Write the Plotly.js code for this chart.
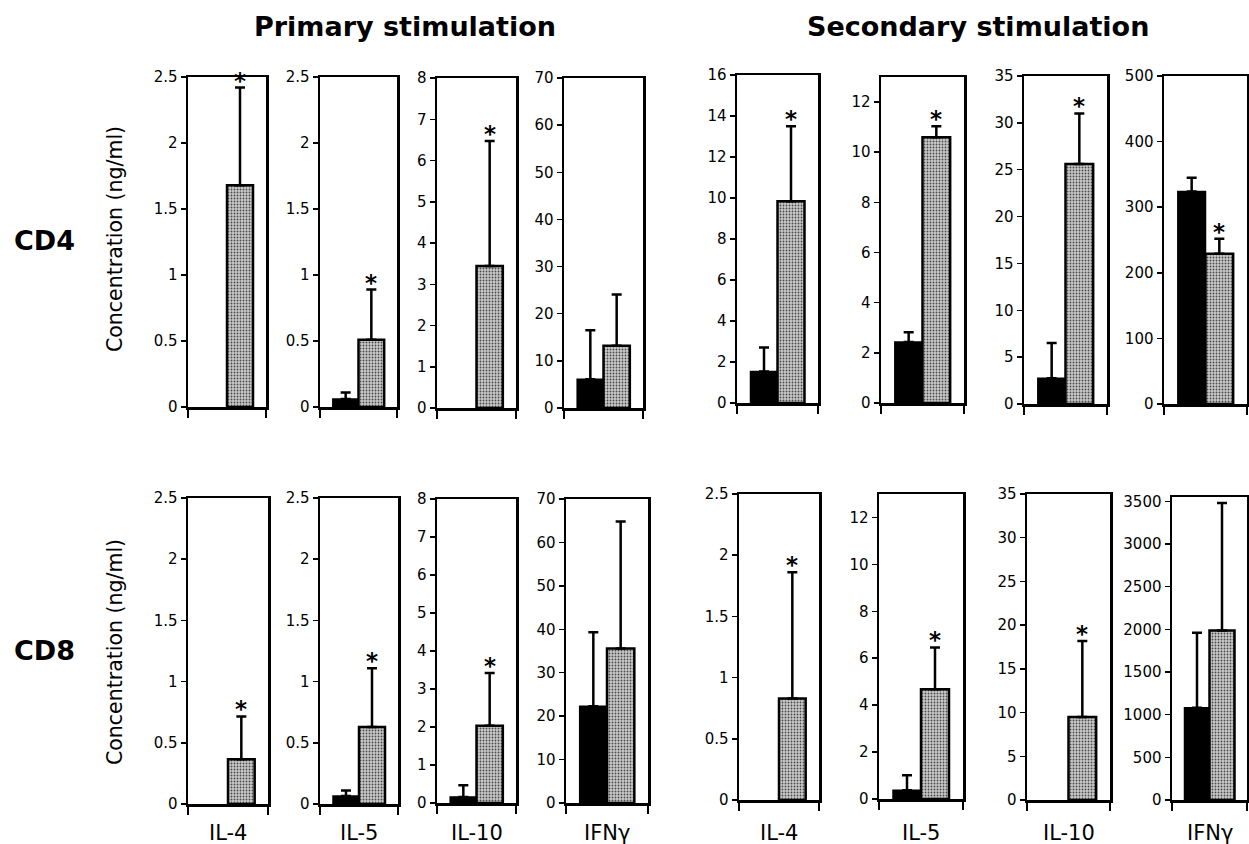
<!DOCTYPE html>
<html>
<head>
<meta charset="utf-8">
<script src="https://cdn.plot.ly/plotly-3.0.1.min.js"></script>
<style>
html,body{margin:0;padding:0;background:#fff;}
#chart{width:1249px;height:844px;}
</style>
</head>
<body>
<div id="chart"></div>
<script>
// ---------------- DATA ----------------
const cytokines = ['IL-4', 'IL-5', 'IL-10', 'IFNγ'];
const stimulations = ['Primary stimulation', 'Secondary stimulation'];
const cellTypes = ['CD4', 'CD8'];
const yAxisTitle = 'Concentration (ng/ml)';

// CD4, primary stimulation (black = control, stippled = treated)
const cd4PriControl     = [null, 0.06, null, 6.1];
const cd4PriControlErr  = [null, 0.05, null, 10.4];
const cd4PriTreated     = [1.68, 0.51, 3.44, 13.2];
const cd4PriTreatedErr  = [0.74, 0.38, 3.03, 10.9];
const cd4PriSig         = [true, true, true, false];

// CD4, secondary stimulation
const cd4SecControl     = [1.54, 2.43, 2.75, 324];
const cd4SecControlErr  = [1.17, 0.39, 3.75, 21];
const cd4SecTreated     = [9.84, 10.6, 25.6, 229];
const cd4SecTreatedErr  = [3.66, 0.44, 5.4, 23];
const cd4SecSig         = [true, true, true, true];

// CD8, primary stimulation
const cd8PriControl     = [null, 0.065, 0.16, 22.3];
const cd8PriControlErr  = [null, 0.045, 0.31, 17];
const cd8PriTreated     = [0.365, 0.63, 2.03, 35.6];
const cd8PriTreatedErr  = [0.35, 0.48, 1.39, 29.2];
const cd8PriSig         = [true, true, true, false];

// CD8, secondary stimulation
const cd8SecControl     = [null, 0.37, null, 1080];
const cd8SecControlErr  = [null, 0.64, null, 880];
const cd8SecTreated     = [0.83, 4.68, 9.5, 1986];
const cd8SecTreatedErr  = [1.03, 1.78, 8.7, 1494];
const cd8SecSig         = [true, true, true, false];

// y-axis scales per panel
const cd4PriYMax = [2.5, 2.5, 8, 70];   const cd4PriYStep = [0.5, 0.5, 1, 10];
const cd4SecYMax = [16, 13, 35, 500];   const cd4SecYStep = [2, 2, 5, 100];
const cd8PriYMax = [2.5, 2.5, 8, 70];   const cd8PriYStep = [0.5, 0.5, 1, 10];
const cd8SecYMax = [2.5, 13, 35, 3550]; const cd8SecYStep = [0.5, 2, 5, 500];

// ---------------- LAYOUT GEOMETRY (pixels) ----------------
const W = 1249, H = 844;
// [left, right, top, zero-line]
const geom = [
  [188,266,77,407],[320,397,77,407],[437,516,78,408],[564,643,78,408],
  [737,818,75,403],[881,964,77,403],[1024,1107,76,404],[1164,1247,76,404],
  [188,268,498,804],[320,398,498,804],[437,516,499,803],[566,648,499,803],
  [739,819,494,800],[879,963,494,799],[1027,1110,494,800],[1172,1247,497,800]
];

const groups = [
  {ctl: cd4PriControl, ctlErr: cd4PriControlErr, trt: cd4PriTreated, trtErr: cd4PriTreatedErr, sig: cd4PriSig, ymax: cd4PriYMax, step: cd4PriYStep},
  {ctl: cd4SecControl, ctlErr: cd4SecControlErr, trt: cd4SecTreated, trtErr: cd4SecTreatedErr, sig: cd4SecSig, ymax: cd4SecYMax, step: cd4SecYStep},
  {ctl: cd8PriControl, ctlErr: cd8PriControlErr, trt: cd8PriTreated, trtErr: cd8PriTreatedErr, sig: cd8PriSig, ymax: cd8PriYMax, step: cd8PriYStep},
  {ctl: cd8SecControl, ctlErr: cd8SecControlErr, trt: cd8SecTreated, trtErr: cd8SecTreatedErr, sig: cd8SecSig, ymax: cd8SecYMax, step: cd8SecYStep}
];

const FONT = 'DejaVu Sans, Liberation Sans, Arial, sans-serif';
const traces = [];
const layout = {
  width: W, height: H,
  margin: {l:0, r:0, t:0, b:0},
  paper_bgcolor: '#fff', plot_bgcolor: '#fff',
  showlegend: false,
  barmode: 'overlay',
  font: {family: FONT, color: '#000'},
  annotations: []
};

const errStyle = {color: '#000', thickness: 2.5, width: 5};

groups.forEach((g, gi) => {
  for (let c = 0; c < 4; c++) {
    const idx = gi * 4 + c + 1;
    const ax = idx === 1 ? '' : String(idx);
    const xa = 'x' + ax, ya = 'y' + ax;
    const [x0, x1, yt, yb] = geom[idx - 1];

    if (g.ctl[c] !== null) {
      traces.push({
        type: 'bar', x: [0], y: [g.ctl[c]], xaxis: xa, yaxis: ya, width: 1,
        marker: {color: '#000', line: {color: '#000', width: 1.5}},
        error_y: Object.assign({type: 'data', symmetric: false, array: [g.ctlErr[c]], arrayminus: [0]}, errStyle),
        hoverinfo: 'skip'
      });
    }
    traces.push({
      type: 'bar', x: [1], y: [g.trt[c]], xaxis: xa, yaxis: ya, width: 1,
      marker: {color: '#bdbdbd', line: {color: '#000', width: 2.5},
               pattern: {shape: '.', bgcolor: '#cacaca', fgcolor: '#4a4a4a', size: 3, solidity: 0.3, fillmode: 'replace'}},
      error_y: Object.assign({type: 'data', symmetric: false, array: [g.trtErr[c]], arrayminus: [0]}, errStyle),
      hoverinfo: 'skip'
    });

    if (g.sig[c]) {
      layout.annotations.push({
        xref: xa, yref: ya, x: 1, y: g.trt[c] + g.trtErr[c],
        text: '<b>*</b>', showarrow: false, yanchor: 'bottom', xanchor: 'center',
        yshift: -8, font: {family: FONT, size: 23, color: '#000'}
      });
    }

    const xKey = 'xaxis' + ax, yKey = 'yaxis' + ax;
    layout[xKey] = {
      domain: [x0 / W, x1 / W], anchor: ya, range: [-1, 2],
      tickvals: [-1, 2], ticks: 'outside', ticklen: 8, tickwidth: 2, tickcolor: '#000',
      showticklabels: false, showline: true, linewidth: 2.5, linecolor: '#000', mirror: true,
      showgrid: false, zeroline: false, fixedrange: true
    };
    layout[yKey] = {
      domain: [1 - yb / H, 1 - yt / H], anchor: xa, range: [0, g.ymax[c]],
      tick0: 0, dtick: g.step[c], ticks: 'outside', ticklen: 5, tickwidth: 1.5, tickcolor: '#000',
      tickfont: {family: FONT, size: 15, color: '#000'},
      showline: true, linewidth: 2.5, linecolor: '#000', mirror: true,
      showgrid: false, zeroline: false, fixedrange: true
    };

    // cytokine labels under the bottom row
    if (gi >= 2) {
      layout.annotations.push({
        xref: xa + ' domain', yref: 'paper', x: 0.5, y: 1 - 833 / H,
        text: cytokines[c], showarrow: false, xanchor: 'center', yanchor: 'middle',
        font: {family: FONT, size: 21, color: '#000'}
      });
    }
  }
});

// stimulation titles
const titleX = [405, 978];
stimulations.forEach((s, i) => {
  layout.annotations.push({
    xref: 'paper', yref: 'paper', x: titleX[i] / W, y: 1 - 27 / H,
    text: '<b>' + s + '</b>', showarrow: false, xanchor: 'center', yanchor: 'middle',
    font: {family: FONT, size: 27, color: '#000'}
  });
});

// row labels and y-axis titles
const rowY = [241, 650];
const yTitleY = [239, 652];
cellTypes.forEach((t, i) => {
  layout.annotations.push({
    xref: 'paper', yref: 'paper', x: 44 / W, y: 1 - rowY[i] / H,
    text: '<b>' + t + '</b>', showarrow: false, xanchor: 'center', yanchor: 'middle',
    font: {family: FONT, size: 27, color: '#000'}
  });
  layout.annotations.push({
    xref: 'paper', yref: 'paper', x: 115 / W, y: 1 - yTitleY[i] / H,
    text: yAxisTitle, textangle: -90, showarrow: false, xanchor: 'center', yanchor: 'middle',
    font: {family: FONT, size: 20.5, color: '#000'}
  });
});

Plotly.newPlot('chart', traces, layout, {staticPlot: true, displayModeBar: false});
</script>
</body>
</html>
